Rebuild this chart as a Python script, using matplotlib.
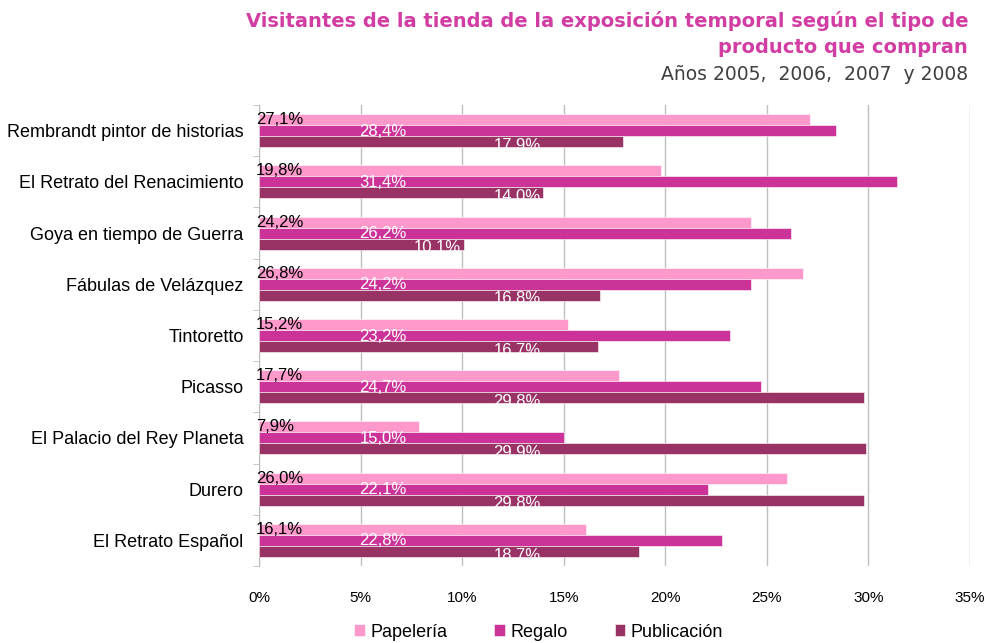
import matplotlib.pyplot as plt
from matplotlib.patches import Rectangle
import numpy as np

plt.rcParams['font.family'] = ['Liberation Sans', 'DejaVu Sans']

categorias = ['Rembrandt pintor de historias', 'El Retrato del Renacimiento',
              'Goya en tiempo de Guerra', 'Fábulas de Velázquez', 'Tintoretto',
              'Picasso', 'El Palacio del Rey Planeta', 'Durero', 'El Retrato Español']
papeleria = [27.1, 19.8, 24.2, 26.8, 15.2, 17.7, 7.9, 26.0, 16.1]
regalo = [28.4, 31.4, 26.2, 24.2, 23.2, 24.7, 15.0, 22.1, 22.8]
publicacion = [17.9, 14.0, 10.1, 16.8, 16.7, 29.8, 29.9, 29.8, 18.7]
series = ['Papelería', 'Regalo', 'Publicación']
colores = ['#FF99CC', '#CC3399', '#993366']

fig = plt.figure(figsize=(9.9, 6.43), dpi=100)
ax = fig.add_axes([0.2616, 0.1197, 0.7182, 0.717])

y = np.arange(len(categorias))
h = 0.215
valores = [papeleria, regalo, publicacion]
for k, (vals, col, nom) in enumerate(zip(valores, colores, series)):
    ax.barh(y + (k - 1) * h, vals, height=h, color=col, edgecolor='white',
            linewidth=0.4, label=nom, zorder=3)

# etiquetas de datos (posicion aproximada como en el original)
for i in range(len(categorias)):
    ax.text(-0.15, y[i] - h, f'{papeleria[i]:.1f}%'.replace('.', ','),
            ha='left', va='center', fontsize=12, color='black', zorder=5)
    ax.text(6.1, y[i] + 0.01, f'{regalo[i]:.1f}%'.replace('.', ','),
            ha='center', va='center', fontsize=12, color='white', zorder=5)
    xp = min(12.7, publicacion[i] - 1.3)
    t = ax.text(xp, y[i] + h + 0.07, f'{publicacion[i]:.1f}%'.replace('.', ','),
                ha='center', va='center', fontsize=12, color='white', zorder=5)
    t.set_clip_path(Rectangle((-1, y[i] - 1), 40, 1 + 1.5 * h, transform=ax.transData))

ax.set_xlim(0, 35)
ax.set_ylim(len(categorias) - 0.5, -0.5)
ax.set_xticks(np.arange(0, 36, 5))
ax.set_xticklabels([f'{v}%' for v in range(0, 36, 5)], fontsize=11)
ax.set_yticks(y)
ax.set_yticklabels(categorias, fontsize=13)
ax.set_yticks(np.arange(-0.5, len(categorias), 1), minor=True)
ax.tick_params(axis='y', which='major', length=0, pad=11)
ax.tick_params(axis='y', which='minor', length=4, color='#BBBBBB')
ax.tick_params(axis='x', length=0, pad=18)
ax.grid(axis='x', color='#BFBFBF', linewidth=1, zorder=0)
for s in ['top', 'right', 'bottom']:
    ax.spines[s].set_visible(False)
ax.spines['left'].set_color('#BBBBBB')

fig.text(0.978, 0.968, 'Visitantes de la tienda de la exposición temporal según el tipo de',
         ha='right', va='center', fontsize=14, fontweight='bold', color='#D13DA3',
         family='DejaVu Sans')
fig.text(0.978, 0.926, 'producto que compran',
         ha='right', va='center', fontsize=14, fontweight='bold', color='#D13DA3',
         family='DejaVu Sans')
fig.text(0.978, 0.884, 'Años 2005,  2006,  2007  y 2008',
         ha='right', va='center', fontsize=13.5, color='#404040', family='DejaVu Sans')

fig.legend(loc='center', bbox_to_anchor=(0.544, 0.017), ncol=3, frameon=False,
           fontsize=13, handlelength=0.6, handleheight=0.6, handletextpad=0.3,
           columnspacing=2.6)

fig.savefig('out.png', dpi=100)
